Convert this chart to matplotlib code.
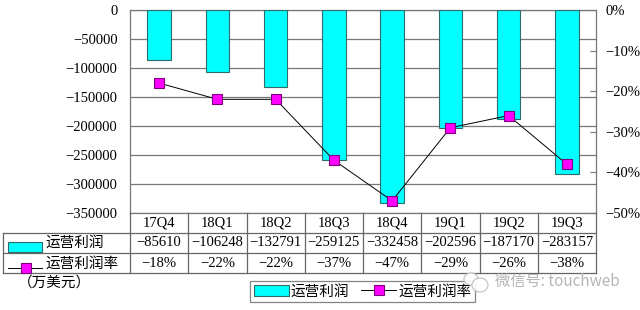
import matplotlib
matplotlib.use("Agg")
import matplotlib.pyplot as plt
from matplotlib.lines import Line2D
from matplotlib.patches import Rectangle, Ellipse
from matplotlib.ticker import FuncFormatter

categories = ["17Q4", "18Q1", "18Q2", "18Q3", "18Q4", "19Q1", "19Q2", "19Q3"]
profit = [-85610, -106248, -132791, -259125, -332458, -202596, -187170, -283157]
margin = [-18, -22, -22, -37, -47, -29, -26, -38]
profit_label = "运营利润"
margin_label = "运营利润率"
unit_label = "（万美元）"
watermark = "微信号: touchweb"

W, H = 640, 310
fig = plt.figure(figsize=(W / 100, H / 100), dpi=100)

def fx(px):
    return px / W

def fy(py):
    return 1 - py / H

serif = ["Liberation Serif", "DejaVu Serif"]
cjk = ["Noto Sans CJK SC", "DejaVu Sans"]

left, right, top, bottom = 130, 596, 10, 213
ax = fig.add_axes([fx(left), fy(bottom), fx(right - left), (bottom - top) / H])

x = list(range(len(categories)))
bars = ax.bar(x, profit, width=0.4, color="#00FFFF", edgecolor="#2E6B6B",
              linewidth=0.8, zorder=3, label=profit_label)
ax.set_xlim(-0.5, len(categories) - 0.5)
ax.set_ylim(-350000, 0)
ax.set_yticks(range(-350000, 1, 50000))
ax.yaxis.set_major_formatter(FuncFormatter(lambda v, p: f"{int(v)}".replace("-", "\u2212")))
ax.grid(axis="y", color="#777777", linewidth=0.9, zorder=0)
ax.set_xticks([])
ax.tick_params(axis="y", length=0, pad=9, labelsize=10.5)
for lab in ax.get_yticklabels():
    lab.set_fontfamily(serif)
for s in ax.spines.values():
    s.set_color("#777777")
    s.set_linewidth(0.9)

ax2 = ax.twinx()
line, = ax2.plot(x, margin, color="black", linewidth=0.7, marker="s", markersize=7,
                 markerfacecolor="#FF00FF", markeredgecolor="#7F007F",
                 markeredgewidth=0.8, zorder=4, label=margin_label)
ax2.set_ylim(-50, 0)
ax2.set_yticks(range(-50, 1, 10))
ax2.yaxis.set_major_formatter(FuncFormatter(lambda v, p: f"{int(v)}%".replace("-", "\u2212")))
ax2.tick_params(axis="y", direction="in", length=4, pad=7, labelsize=10.5, color="#777777")
for lab in ax2.get_yticklabels():
    lab.set_fontfamily(serif)
for s in ax2.spines.values():
    s.set_visible(False)

# data table
fig.canvas.draw()
def data_to_px(xv):
    disp = ax.transData.transform((xv, 0))
    return disp[0] / fig.dpi * 100

bounds = [data_to_px(i - 0.5) for i in range(len(categories) + 1)]
centers = [data_to_px(i) for i in x]
row_y = [213, 233, 253, 273]
tl = "#666666"

def hline(x0, x1, y):
    fig.add_artist(Line2D([fx(x0), fx(x1)], [fy(y), fy(y)], color=tl, lw=0.9,
                          transform=fig.transFigure))

def vline(xp, y0, y1):
    fig.add_artist(Line2D([fx(xp), fx(xp)], [fy(y0), fy(y1)], color=tl, lw=0.9,
                          transform=fig.transFigure))

for y in row_y[1:]:
    hline(3, bounds[-1], y)
for b in bounds:
    vline(b, row_y[0], row_y[-1])
vline(3, row_y[1], row_y[-1])

def fmt_num(v):
    return f"{v}".replace("-", "\u2212")

for cx, cat, p, m in zip(centers, categories, profit, margin):
    fig.text(fx(cx), fy(223), cat, ha="center", va="center", fontsize=10.5, family=serif)
    fig.text(fx(cx), fy(243), fmt_num(p), ha="center", va="center", fontsize=10.5, family=serif)
    fig.text(fx(cx), fy(263.5), fmt_num(m) + "%", ha="center", va="center", fontsize=10.5, family=serif)

# row header keys
fig.add_artist(Rectangle((fx(8), fy(252)), fx(34), 10 / H, facecolor="#00FFFF",
                         edgecolor="#2E6B6B", lw=0.8, transform=fig.transFigure))
fig.text(fx(45), fy(243), profit_label, ha="left", va="center", fontsize=10.5, family=cjk)
fig.add_artist(Line2D([fx(8), fx(42)], [fy(268), fy(268)], color="black", lw=0.7,
                      transform=fig.transFigure))
fig.add_artist(Line2D([fx(26)], [fy(268)], marker="s", markersize=7,
                      markerfacecolor="#FF00FF", markeredgecolor="#7F007F",
                      markeredgewidth=0.8, transform=fig.transFigure))
fig.text(fx(45), fy(264), margin_label, ha="left", va="center", fontsize=10.5, family=cjk)

fig.text(fx(18), fy(283), unit_label, ha="left", va="center", fontsize=10.5, family=cjk)

leg = fig.legend(handles=[bars, line], labels=[profit_label, margin_label], ncol=2,
                 loc="center", bbox_to_anchor=(fx(362.5), fy(291.5)),
                 prop={"family": cjk, "size": 10.5}, frameon=True, fancybox=False,
                 edgecolor="#666666", handlelength=2.4, handletextpad=0.15,
                 columnspacing=0.8, borderpad=0.25, borderaxespad=0)
leg.get_frame().set_linewidth(0.9)

# watermark
for (cx, cy, w, h) in [(471, 279, 14, 12), (480, 285, 16, 14)]:
    fig.add_artist(Ellipse((fx(cx), fy(cy)), fx(w), h / H, facecolor="white",
                           edgecolor="#c0c0c0", lw=0.9, alpha=0.9,
                           transform=fig.transFigure, zorder=10))
fig.text(fx(495), fy(281), watermark, ha="left", va="center", fontsize=11,
         family=cjk, color="#b5b5b5", zorder=11)

fig.savefig("out.png", dpi=100)
